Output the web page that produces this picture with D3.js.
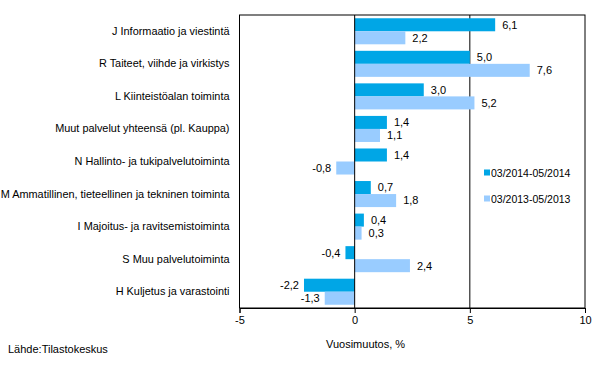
<!DOCTYPE html>
<html>
<head>
<meta charset="utf-8">
<script src="https://cdn.jsdelivr.net/npm/d3@7"></script>
<style>
  body { margin: 0; background: #fff; }
  svg text { font-family: "Liberation Sans", Arial, sans-serif; fill: #000; }
</style>
</head>
<body>
<div id="chart"></div>
<script>
const categories = [
  "J Informaatio ja viestintä",
  "R Taiteet, viihde ja virkistys",
  "L Kiinteistöalan toiminta",
  "Muut palvelut yhteensä (pl. Kauppa)",
  "N Hallinto- ja tukipalvelutoiminta",
  "M Ammatillinen, tieteellinen ja tekninen toiminta",
  "I Majoitus- ja ravitsemistoiminta",
  "S Muu palvelutoiminta",
  "H Kuljetus ja varastointi"
];
const seriesNames = ["03/2014-05/2014", "03/2013-05/2013"];
const values2014 = [6.1, 5.0, 3.0, 1.4, 1.4, 0.7, 0.4, -0.4, -2.2];
const values2013 = [2.2, 7.6, 5.2, 1.1, -0.8, 1.8, 0.3, 2.4, -1.3];
const xTicks = [-5, 0, 5, 10];
const colors = ["#00a6e6", "#99ccff"];

const width = 600, height = 373;
const margin = {top: 15, right: 15, bottom: 65, left: 239.5};
const innerW = width - margin.left - margin.right;
const innerH = height - margin.top - margin.bottom;

const svg = d3.select("#chart").append("svg")
  .attr("width", width).attr("height", height);
const g = svg.append("g")
  .attr("transform", "translate(" + margin.left + "," + margin.top + ")");

const x = d3.scaleLinear().domain([-5, 10]).range([0, innerW]);
const y = d3.scaleBand().domain(categories).range([0, innerH]).paddingInner(0.2).paddingOuter(0.1);
const sub = d3.scaleBand().domain([0, 1]).range([0, y.bandwidth()]);

const fmt = v => d3.format(".1f")(v).replace(".", ",").replace("−", "-");

// gridline at 5
g.append("line")
  .attr("x1", x(5)).attr("x2", x(5)).attr("y1", 0).attr("y2", innerH)
  .attr("stroke", "#000").attr("stroke-width", 1);

const rows = categories.map((c, i) => ({cat: c, vals: [values2014[i], values2013[i]]}));

rows.forEach(r => {
  r.vals.forEach((v, s) => {
    const y0 = y(r.cat) + sub(s);
    g.append("rect")
      .attr("x", x(Math.min(0, v)))
      .attr("y", y0)
      .attr("width", Math.abs(x(v) - x(0)))
      .attr("height", sub.bandwidth())
      .attr("fill", colors[s]);
    g.append("text")
      .attr("x", v >= 0 ? x(v) + 7 : x(v) - 5)
      .attr("y", y0 + sub.bandwidth() / 2)
      .attr("dy", "0.35em")
      .attr("text-anchor", v >= 0 ? "start" : "end")
      .style("font-size", "11px")
      .text(fmt(v));
  });
});

// zero line
g.append("line")
  .attr("x1", x(0)).attr("x2", x(0)).attr("y1", 0).attr("y2", innerH)
  .attr("stroke", "#000").attr("stroke-width", 1);

// frame
g.append("rect")
  .attr("x", 0).attr("y", 0).attr("width", innerW).attr("height", innerH)
  .attr("fill", "none").attr("stroke", "#000").attr("stroke-width", 1);

// x axis
const xAxis = g.append("g")
  .attr("transform", "translate(0," + innerH + ")")
  .call(d3.axisBottom(x).tickValues(xTicks).tickSize(5).tickFormat(d => String(d)));
xAxis.select(".domain").attr("stroke", "#000");
xAxis.selectAll(".tick line").attr("stroke", "#000");
xAxis.selectAll("text").style("font-size", "11px")
  .style("font-family", "Liberation Sans, Arial, sans-serif").attr("y", 8);

// y labels
const yAxis = g.append("g")
  .call(d3.axisLeft(y).tickSize(0).tickPadding(10));
yAxis.select(".domain").remove();
yAxis.selectAll("text").style("font-size", "10.9px")
  .style("font-family", "Liberation Sans, Arial, sans-serif");

// legend
const legend = svg.append("g").attr("transform", "translate(484,173)");
seriesNames.forEach((n, i) => {
  const lg = legend.append("g").attr("transform", "translate(0," + i * 26 + ")");
  lg.append("rect").attr("x", 0).attr("y", -3.5).attr("width", 6).attr("height", 6).attr("fill", colors[i]);
  lg.append("text").attr("x", 7).attr("y", 0).attr("dy", "0.35em")
    .style("font-size", "10.5px").text(n);
});

svg.append("text").attr("x", 326).attr("y", 348).style("font-size", "11px").text("Vuosimuutos, %");
svg.append("text").attr("x", 8).attr("y", 353).style("font-size", "11px").text("Lähde:Tilastokeskus");
</script>
</body>
</html>
